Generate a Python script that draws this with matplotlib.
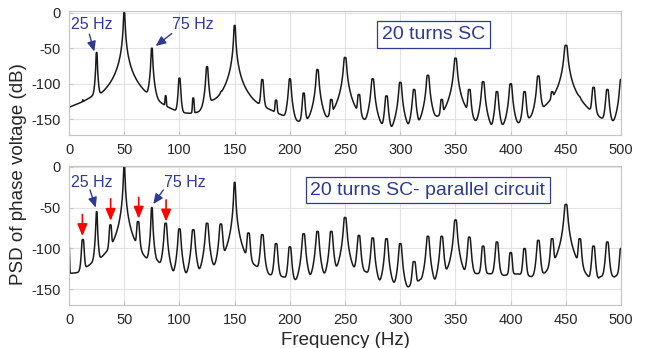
import matplotlib
matplotlib.use("Agg")
import matplotlib.pyplot as plt
import numpy as np

plt.rcParams['font.family'] = ['Liberation Sans', 'DejaVu Sans']
plt.rcParams['axes.unicode_minus'] = False

# ---- top panel: 20 turns SC ----
top_peak_freq = [12.5, 25, 50, 75, 87.5, 100, 112.5, 125, 137.5, 150, 162.5,
                 175, 187.5, 200, 212.5, 225, 237.5, 250, 262.5, 275, 287.5,
                 300, 312.5, 325, 337.5, 350, 362.5, 375, 387.5, 400, 412.5,
                 425, 437.5, 450, 462.5, 475, 487.5, 500]
top_peak_db = [-126, -56, 0, -50, -117, -92, -120, -76, -116, -18, -128,
               -94, -123, -93, -113, -80, -122, -63, -115, -93, -117,
               -98, -108, -88, -122, -64, -108, -97, -111, -100, -111,
               -89, -112, -46, -125, -105, -108, -94]
top_peak_width = [0.2, 0.42, 0.5, 0.5, 0.55, 0.65, 0.6, 0.7, 0.6, 0.55, 0.7,
                  0.8, 0.8, 0.8, 0.8, 0.85, 0.9, 0.95, 0.95, 0.95, 0.95,
                  0.95, 0.95, 0.95, 0.9, 0.95, 0.95, 0.95, 0.95, 0.95, 0.95,
                  0.95, 0.9, 1.1, 0.8, 0.95, 0.95, 0.95]
top_floor_freq = [0, 13, 22, 27.5, 40, 62, 72, 80, 84, 96, 106, 118, 130, 140,
                  165, 170, 181, 194, 205, 219, 230, 243, 260, 270, 281, 294,
                  306, 319, 332, 341, 358, 369, 381, 394, 406, 419, 431, 441,
                  462, 469, 481, 494, 500]
top_floor_db = [-134, -126, -118, -120, -135, -140, -130, -133, -137, -155, -146,
                -144, -125, -125, -130, -132, -137, -146, -155, -153, -155,
                -155, -148, -171, -160, -171, -164, -166, -148, -148, -136,
                -171, -171, -162, -164, -164, -136, -122, -125, -146, -160,
                -159, -150]

# ---- bottom panel: 20 turns SC - parallel circuit ----
bot_peak_freq = [0, 12.5, 25, 37.5, 50, 62.5, 75, 87.5, 100, 112.5, 125, 137.5,
                 150, 162.5, 175, 187.5, 200, 212.5, 225, 237.5, 250, 262.5,
                 275, 287.5, 300, 312.5, 325, 337.5, 350, 362.5, 375, 387.5,
                 400, 412.5, 425, 437.5, 450, 462.5, 475, 487.5, 500]
bot_peak_db = [-96, -89, -55, -71, 0, -67, -50, -69, -76, -77, -69, -70,
               -19, -81, -83, -94, -98, -82, -79, -79, -62, -84,
               -87, -88, -94, -116, -85, -85, -65, -86, -97, -92,
               -105, -100, -90, -88, -46, -88, -97, -92, -100]
bot_peak_width = [0.3, 0.8, 0.45, 0.8, 0.5, 0.9, 0.5, 0.9, 0.9, 1.0, 1.0, 1.0,
                  0.55, 1.0, 1.0, 1.0, 1.0, 1.0, 1.0, 1.0, 1.0, 1.0,
                  1.0, 1.0, 1.0, 1.2, 1.0, 1.0, 1.0, 1.0, 1.0, 1.0,
                  1.0, 1.0, 1.0, 1.0, 1.1, 1.0, 1.0, 1.0, 1.0]
bot_floor_freq = [0, 8, 17, 22, 27, 33, 41, 57, 71, 80, 95, 106, 118, 131,
                  143, 156, 168, 181, 194, 206, 219, 231, 244, 256, 269, 281,
                  294, 306, 318, 330, 344, 356, 369, 381, 394, 406, 419, 431,
                  443, 456, 470, 481, 494, 500]
bot_floor_db = [-131, -131, -123, -118, -117, -110, -110, -105, -135, -116, -139,
                -137, -133, -127, -118, -122, -122, -133, -135, -141, -137,
                -135, -129, -127, -129, -143, -145, -149, -139, -155, -127,
                -133, -131, -131, -133, -131, -135, -133, -122, -125, -155,
                -135, -135, -130]

x_ticks = [0, 50, 100, 150, 200, 250, 300, 350, 400, 450, 500]
y_ticks = [-150, -100, -50, 0]

freq = np.arange(0, 500.01, 0.05)


def build_psd(peak_f, peak_db, peak_w, floor_f, floor_db):
    power = 10 ** (np.interp(freq, floor_f, floor_db) / 10)
    for f0, h, w in zip(peak_f, peak_db, peak_w):
        power += 10 ** (h / 10) / (1 + np.abs((freq - f0) / w) ** 7)
    return 10 * np.log10(power)


psd_top = build_psd(top_peak_freq, top_peak_db, top_peak_width,
                    top_floor_freq, top_floor_db)
psd_bot = build_psd(bot_peak_freq, bot_peak_db, bot_peak_width,
                    bot_floor_freq, bot_floor_db)

blue = '#2e3a94'
frame = '#c4c4c4'

fig = plt.figure(figsize=(6.45, 3.48), dpi=100)
ax_top = fig.add_axes([0.107, 0.612, 0.856, 0.356])
ax_bot = fig.add_axes([0.107, 0.124, 0.856, 0.399])

for ax, psd, ylim in [(ax_top, psd_top, (-172, 2)), (ax_bot, psd_bot, (-169, 1))]:
    ax.plot(freq, psd, color='#1a1a1a', lw=1.1)
    ax.set_xlim(0, 500)
    ax.set_ylim(*ylim)
    ax.set_xticks(x_ticks)
    ax.set_yticks(y_ticks)
    ax.grid(True, color='#e3e3e3', lw=0.8)
    ax.set_axisbelow(True)
    ax.tick_params(direction='in', length=3, color=frame, labelsize=10.5,
                   labelcolor='#262626', pad=6)
    for s in ax.spines.values():
        s.set_color(frame)
        s.set_linewidth(0.8)

arrow_blue = dict(arrowstyle='-|>,head_length=0.5,head_width=0.22',
                  color=blue, lw=1.0, mutation_scale=12, shrinkA=0, shrinkB=0)
arrow_red = dict(arrowstyle='-|>,head_length=0.6,head_width=0.25',
                 color='red', lw=1.2, mutation_scale=12, shrinkA=0, shrinkB=0)

# top annotations: (label, text x, text y, arrow start, arrow end)
top_notes = [('25 Hz', 20.3, -17.4, (18.4, -30.3), (22.9, -54.7)),
             ('75 Hz', 112.3, -17.4, (93, -29.5), (78.5, -47))]
bot_notes = [('25 Hz', 20.5, -18.7, (19, -28.3), (24.2, -49.9)),
             ('75 Hz', 105, -18.7, (85.4, -28.3), (76.3, -45.6))]

for ax, notes in [(ax_top, top_notes), (ax_bot, bot_notes)]:
    for label, tx, ty, start, end in notes:
        ax.text(tx, ty, label, color=blue, fontsize=11.5, ha='center', va='center')
        ax.annotate('', xy=end, xytext=start, arrowprops=arrow_blue)

ax_top.text(330, -31, '20 turns SC', color=blue, fontsize=14,
            ha='center', va='center',
            bbox=dict(boxstyle='square,pad=0.25', fc='white', ec=blue, lw=0.9))
ax_bot.text(325, -28.5, '20 turns SC- parallel circuit', color=blue,
            fontsize=14, ha='center', va='center',
            bbox=dict(boxstyle='square,pad=0.25', fc='white', ec=blue, lw=0.9))

red_arrows = [(12.1, -58.4, -84.8), (37.7, -39.2, -66.1), (63.1, -37.5, -63.5),
              (87.9, -40.5, -67)]
for fx, start, tip in red_arrows:
    ax_bot.annotate('', xy=(fx, tip), xytext=(fx, start), arrowprops=arrow_red)

fig.text(0.028, 0.5, 'PSD of phase voltage (dB)', rotation=90, fontsize=13.5,
         color='#262626', ha='center', va='center')
fig.text(0.535, 0.022, 'Frequency (Hz)', fontsize=13.5, color='#262626',
         ha='center', va='center')

fig.savefig('out.png', dpi=100)
